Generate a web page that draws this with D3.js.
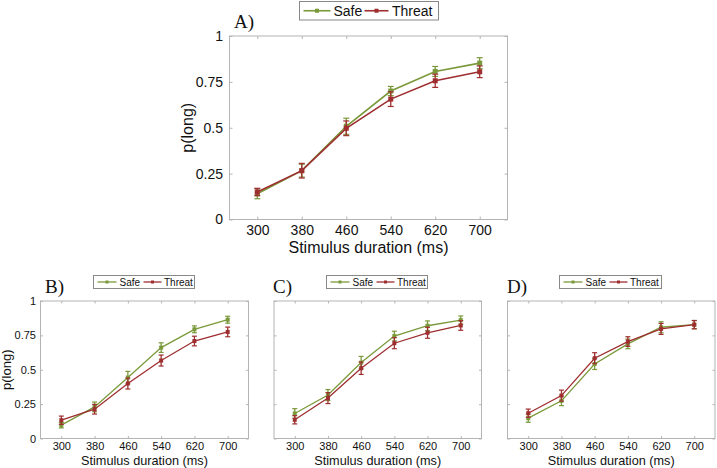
<!DOCTYPE html>
<html><head><meta charset="utf-8">
<script src="https://cdn.jsdelivr.net/npm/d3@7"></script>
<style>body{margin:0;background:#fff}svg{display:block}</style>
</head><body>
<svg id="c" width="717" height="468"></svg>
<script>
const durations = [300, 380, 460, 540, 620, 700];
const yTicks = [0, 0.25, 0.5, 0.75, 1];
const yTickLabels = ["0", "0.25", "0.5", "0.75", "1"];
const seriesNames = ["Safe", "Threat"];
const seriesColors = ["#7a993a", "#9e2e30"];

const safeA = [0.14, 0.266, 0.508, 0.70, 0.807, 0.852];
const safeAErr = [0.027, 0.035, 0.044, 0.025, 0.027, 0.03];
const threatA = [0.15, 0.266, 0.497, 0.656, 0.756, 0.805];
const threatAErr = [0.02, 0.04, 0.04, 0.04, 0.036, 0.032];

const safeB = [0.097, 0.23, 0.443, 0.661, 0.794, 0.864];
const safeBErr = [0.02, 0.035, 0.045, 0.035, 0.025, 0.025];
const threatB = [0.133, 0.213, 0.40, 0.567, 0.709, 0.775];
const threatBErr = [0.03, 0.035, 0.04, 0.04, 0.035, 0.035];

const safeC = [0.182, 0.316, 0.552, 0.745, 0.82, 0.861];
const safeCErr = [0.035, 0.04, 0.045, 0.035, 0.035, 0.03];
const threatC = [0.136, 0.294, 0.511, 0.693, 0.769, 0.822];
const threatCErr = [0.03, 0.04, 0.045, 0.04, 0.04, 0.035];

const safeD = [0.148, 0.274, 0.542, 0.688, 0.809, 0.828];
const safeDErr = [0.03, 0.035, 0.04, 0.035, 0.04, 0.03];
const threatD = [0.184, 0.312, 0.584, 0.705, 0.797, 0.828];
const threatDErr = [0.03, 0.04, 0.04, 0.035, 0.04, 0.03];

const svg = d3.select("#c");
const FONT = "'Liberation Sans', Arial, Helvetica, sans-serif";

function panel(o) {
  const x = d3.scaleLinear().domain([250, 750]).range([o.x0, o.x1]);
  const y = d3.scaleLinear().domain([0, 1]).range([o.y1, o.y0]);
  const g = svg.append("g");
  const tl = o.big ? 3 : 2.5;
  g.append("rect").attr("x", o.x0).attr("y", o.y0).attr("width", o.x1 - o.x0).attr("height", o.y1 - o.y0)
    .attr("fill", "none").attr("stroke", "#b4b4b4").attr("stroke-width", 1);
  const ax = d3.axisBottom(x).tickValues(durations).tickSize(-tl).tickPadding(o.big ? 6 : 3.5).tickFormat(d3.format("d"));
  const gx = g.append("g").attr("transform", `translate(0,${o.y1})`).call(ax);
  const gxt = g.append("g").attr("transform", `translate(0,${o.y0})`).call(d3.axisTop(x).tickValues(durations).tickSize(-tl).tickFormat(""));
  const ay = d3.axisLeft(y).tickValues(yTicks).tickSize(-tl).tickPadding(o.big ? 6.5 : 4.5)
    .tickFormat((d, i) => o.yLabels ? yTickLabels[i] : "");
  const gy = g.append("g").attr("transform", `translate(${o.x0},0)`).call(ay);
  const gyr = g.append("g").attr("transform", `translate(${o.x1},0)`).call(d3.axisRight(y).tickValues(yTicks).tickSize(-tl).tickFormat(""));
  [gx, gxt, gy, gyr].forEach(a => {
    a.select(".domain").remove();
    a.selectAll(".tick line").attr("stroke", "#b4b4b4");
    a.selectAll("text").attr("fill", "#111").style("font-family", FONT).style("font-size", o.big ? "14px" : "11px");
  });
  g.append("text").attr("x", (o.x0 + o.x1) / 2).attr("y", o.xlabY).attr("text-anchor", "middle")
    .style("font-family", FONT).style("font-size", o.big ? "16px" : "12.7px").attr("fill", "#111")
    .text("Stimulus duration (ms)");
  if (o.yLabels) {
    g.append("text").attr("transform", `translate(${o.ylabX},${(o.y0 + o.y1) / 2}) rotate(-90)`)
      .attr("text-anchor", "middle").style("font-family", FONT).style("font-size", o.big ? "16px" : "13px").attr("fill", "#111")
      .text("p(long)");
  }
  g.append("text").attr("x", o.lx).attr("y", o.ly).style("font-family", "'Liberation Serif', 'Times New Roman', serif")
    .style("font-size", "19px").attr("fill", "#111").text(o.letter);
  const cap = o.big ? 3 : 2.5;
  const ms = o.big ? 5 : 4;
  const line = d3.line().x((d, i) => x(durations[i])).y(d => y(d));
  o.series.forEach((s, si) => {
    const col = seriesColors[si];
    const sg = g.append("g");
    sg.append("path").datum(s.v).attr("d", line).attr("fill", "none").attr("stroke", col).attr("stroke-width", o.big ? 1.6 : 1.3);
    s.v.forEach((v, i) => {
      const cx = x(durations[i]);
      const lo = y(v - s.e[i]), hi = y(v + s.e[i]);
      sg.append("line").attr("x1", cx).attr("x2", cx).attr("y1", lo).attr("y2", hi).attr("stroke", col).attr("stroke-width", 1.3);
      sg.append("line").attr("x1", cx - cap).attr("x2", cx + cap).attr("y1", lo).attr("y2", lo).attr("stroke", col).attr("stroke-width", 1.2);
      sg.append("line").attr("x1", cx - cap).attr("x2", cx + cap).attr("y1", hi).attr("y2", hi).attr("stroke", col).attr("stroke-width", 1.2);
      sg.append("rect").attr("x", cx - ms / 2).attr("y", y(v) - ms / 2).attr("width", ms).attr("height", ms).attr("fill", col);
    });
  });
  const L = o.leg;
  const lg = g.append("g");
  lg.append("rect").attr("x", L.x).attr("y", L.y).attr("width", L.w).attr("height", L.h)
    .attr("fill", "#fff").attr("stroke", "#888").attr("stroke-width", 1);
  const fs = o.big ? 14 : 10;
  const cy = L.y + L.h / 2;
  const segs = o.big ? [[4, 31, 34], [65, 89, 92.5]] : [[4, 23, 26], [50, 68, 70.5]];
  segs.forEach((sgm, si) => {
    const col = seriesColors[si];
    lg.append("line").attr("x1", L.x + sgm[0]).attr("x2", L.x + sgm[1]).attr("y1", cy).attr("y2", cy).attr("stroke", col).attr("stroke-width", o.big ? 1.6 : 1.3);
    lg.append("rect").attr("x", L.x + (sgm[0] + sgm[1]) / 2 - (o.big ? 2 : 1.5)).attr("y", cy - (o.big ? 2 : 1.5))
      .attr("width", o.big ? 4 : 3).attr("height", o.big ? 4 : 3).attr("fill", col);
    lg.append("text").attr("x", L.x + sgm[2]).attr("y", cy).attr("dy", "0.36em").style("font-family", FONT)
      .style("font-size", fs + "px").attr("fill", "#111").text(seriesNames[si]);
  });
}

panel({big: true, x0: 229.5, x1: 507.5, y0: 36, y1: 219.5, xlabY: 253, ylabX: 193, yLabels: true,
  letter: "A)", lx: 234, ly: 28, leg: {x: 299.5, y: 1.5, w: 139, h: 18.5},
  series: [{v: safeA, e: safeAErr}, {v: threatA, e: threatAErr}]});
panel({big: false, x0: 40.5, x1: 248.5, y0: 301, y1: 438.5, xlabY: 464.5, ylabX: 11, yLabels: true,
  letter: "B)", lx: 45, ly: 293, leg: {x: 93.5, y: 275.5, w: 101, h: 13},
  series: [{v: safeB, e: safeBErr}, {v: threatB, e: threatBErr}]});
panel({big: false, x0: 274, x1: 481.5, y0: 301, y1: 438.5, xlabY: 464.5, yLabels: false,
  letter: "C)", lx: 273, ly: 293, leg: {x: 326.5, y: 275.5, w: 101, h: 13},
  series: [{v: safeC, e: safeCErr}, {v: threatC, e: threatCErr}]});
panel({big: false, x0: 507.5, x1: 715, y0: 301, y1: 438.5, xlabY: 464.5, yLabels: false,
  letter: "D)", lx: 507, ly: 293, leg: {x: 559.5, y: 275.5, w: 102, h: 13},
  series: [{v: safeD, e: safeDErr}, {v: threatD, e: threatDErr}]});
</script>
</body></html>
